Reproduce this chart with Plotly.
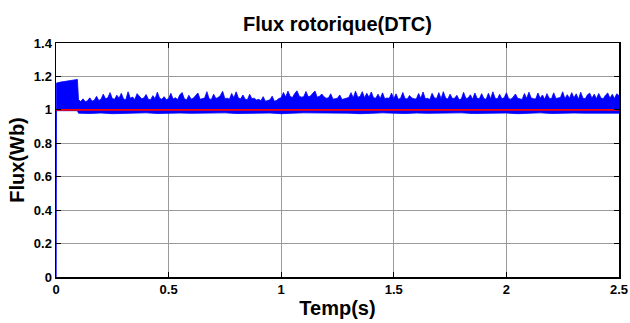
import numpy as np
import plotly.graph_objects as go

# ---- data ----
t_rise = [0.0, 0.0015, 0.02, 0.04, 0.06, 0.08, 0.095]
flux_rise_upper = [0.0, 1.160, 1.166, 1.170, 1.174, 1.178, 1.182]
flux_rise_lower = [0.0, 0.995, 0.995, 0.995, 0.995, 0.995, 0.995]

t_band = np.round(np.arange(0.10, 2.5001, 0.01), 3)
flux_upper = [
    1.060, 1.050, 1.066, 1.049, 1.055, 1.072, 1.052, 1.058, 1.081, 1.056,
    1.064, 1.094, 1.066, 1.072, 1.103, 1.068, 1.063, 1.088, 1.070, 1.099,
    1.065, 1.061, 1.108, 1.069, 1.077, 1.062, 1.097, 1.083, 1.066, 1.071,
    1.092, 1.064, 1.060, 1.085, 1.067, 1.106, 1.070, 1.063, 1.079, 1.061,
    1.068, 1.099, 1.065, 1.072, 1.062, 1.090, 1.104, 1.066, 1.060, 1.087,
    1.064, 1.070, 1.083, 1.101, 1.063, 1.068, 1.071, 1.109, 1.066, 1.062,
    1.094, 1.068, 1.074, 1.086, 1.111, 1.067, 1.070, 1.064, 1.098, 1.072,
    1.108, 1.071, 1.066, 1.089, 1.064, 1.061, 1.093, 1.067, 1.070, 1.059,
    1.063, 1.055, 1.079, 1.052, 1.058, 1.060, 1.082, 1.051, 1.057, 1.068,
    1.073, 1.104, 1.077, 1.112, 1.080, 1.074, 1.098, 1.114, 1.082, 1.076,
    1.079, 1.110, 1.078, 1.083, 1.099, 1.113, 1.076, 1.081, 1.095, 1.078,
    1.069, 1.072, 1.096, 1.064, 1.067, 1.070, 1.089, 1.062, 1.066, 1.068,
    1.074, 1.103, 1.072, 1.112, 1.076, 1.080, 1.109, 1.073, 1.099, 1.075,
    1.107, 1.072, 1.070, 1.094, 1.068, 1.102, 1.066, 1.071, 1.069, 1.100,
    1.067, 1.096, 1.063, 1.069, 1.104, 1.068, 1.065, 1.086, 1.071, 1.066,
    1.065, 1.098, 1.070, 1.107, 1.066, 1.069, 1.062, 1.099, 1.072, 1.068,
    1.103, 1.067, 1.109, 1.071, 1.065, 1.094, 1.068, 1.070, 1.087, 1.061,
    1.066, 1.105, 1.068, 1.071, 1.090, 1.064, 1.101, 1.069, 1.066, 1.097,
    1.068, 1.063, 1.099, 1.067, 1.108, 1.070, 1.065, 1.093, 1.066, 1.072,
    1.102, 1.067, 1.064, 1.076, 1.095, 1.069, 1.066, 1.062, 1.098, 1.068,
    1.106, 1.071, 1.067, 1.065, 1.101, 1.069, 1.089, 1.063, 1.097, 1.070,
    1.066, 1.102, 1.068, 1.071, 1.074, 1.108, 1.066, 1.091, 1.069, 1.103,
    1.072, 1.096, 1.064, 1.105, 1.069, 1.067, 1.090, 1.100, 1.070, 1.094,
    1.067, 1.098, 1.071, 1.066, 1.088, 1.101, 1.070, 1.093, 1.068, 1.096,
    1.085,
]

t_low = np.round(np.arange(0.10, 2.5001, 0.05), 3)
flux_lower = [
    0.980, 0.978, 0.981, 0.977, 0.980, 0.979, 0.982, 0.978, 0.980, 0.981,
    0.979, 0.977, 0.980, 0.982, 0.978, 0.980, 0.979, 0.981, 0.977, 0.980,
    0.982, 0.979, 0.978, 0.981, 0.980, 0.977, 0.979, 0.982, 0.980, 0.978,
    0.981, 0.979, 0.977, 0.980, 0.982, 0.978, 0.980, 0.979, 0.981, 0.977,
    0.980, 0.982, 0.978, 0.979, 0.981, 0.980, 0.977, 0.979, 0.980,
]

t_ref = [0.0, 2.5]
flux_ref = [1.0, 1.0]

x_ticks = [0, 0.5, 1, 1.5, 2, 2.5]
x_ticktext = ["0", "0.5", "1", "1.5", "2", "2.5"]
y_ticks = [0, 0.2, 0.4, 0.6, 0.8, 1.0, 1.2, 1.4]
y_ticktext = ["0", "0.2", "0.4", "0.6", "0.8", "1", "1.2", "1.4"]

# ---- build the flux band outline ----
px = list(t_rise) + list(t_band) + list(t_low[::-1]) + list(t_rise[:0:-1]) + [t_rise[0]]
py = list(flux_rise_upper) + list(flux_upper) + list(flux_lower[::-1]) + list(flux_rise_lower[:0:-1]) + [flux_rise_lower[0]]

FONT = "Arial, 'Liberation Sans', Helvetica, sans-serif"

fig = go.Figure()
fig.add_trace(go.Scatter(
    x=px, y=py, mode="lines", fill="toself",
    fillcolor="#0000ff", line=dict(color="#0000ff", width=0.8),
    hoverinfo="skip", showlegend=False,
))
fig.add_trace(go.Scatter(
    x=t_ref, y=flux_ref, mode="lines",
    line=dict(color="#ff0000", width=1.6), showlegend=False,
))

fig.update_layout(
    width=630, height=323,
    margin=dict(l=56, r=11, t=43, b=46),
    paper_bgcolor="white", plot_bgcolor="white",
    font=dict(family=FONT, color="black"),
    title=dict(
        text="Flux rotorique(DTC)",
        font=dict(family=FONT, size=20, color="black", weight="bold"),
        x=0.5, xref="paper", xanchor="center",
        y=1 - 24 / 323, yref="container", yanchor="middle",
    ),
)
axis_common = dict(
    showline=True, linecolor="black", linewidth=1.5, mirror="ticks",
    ticks="inside", ticklen=5, tickcolor="black", tickwidth=1,
    showgrid=True, gridcolor="#9a9a9a", gridwidth=1,
    zeroline=False, automargin=False,
    tickfont=dict(family=FONT, size=13, color="black", weight="bold"),
)
fig.update_xaxes(
    range=[0, 2.5], tickvals=x_ticks, ticktext=x_ticktext,
    title=dict(text="Temp(s)", font=dict(family=FONT, size=20, color="black", weight="bold"), standoff=5),
    **axis_common,
)
fig.update_yaxes(
    range=[0, 1.4], tickvals=y_ticks, ticktext=y_ticktext,
    title=dict(text="Flux(Wb)", font=dict(family=FONT, size=20, color="black", weight="bold"), standoff=4),
    **axis_common,
)

fig.write_html("out.html", config={"displayModeBar": False, "staticPlot": True})

# remove the default page margin so the figure sits at the window's corner
with open("out.html", "r", encoding="utf-8") as f:
    html = f.read()
html = html.replace("<body>", '<body style="margin:0;padding:0;overflow:hidden">', 1)
with open("out.html", "w", encoding="utf-8") as f:
    f.write(html)
